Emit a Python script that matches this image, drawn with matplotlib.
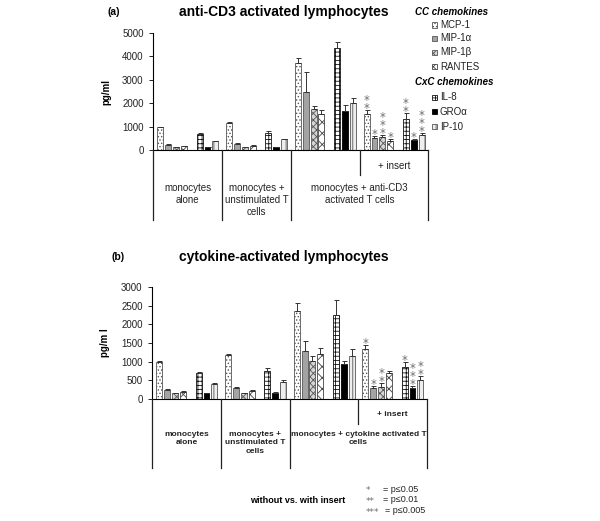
import matplotlib
matplotlib.use('Agg')
import matplotlib.pyplot as plt
from matplotlib.patches import Rectangle
import numpy as np

plt.rcParams['font.family'] = ['Liberation Sans', 'DejaVu Sans']
plt.rcParams['hatch.linewidth'] = 0.6

# ---------------- data ----------------
chemokines = ['MCP-1', 'MIP-1α', 'MIP-1β', 'RANTES', 'IL-8', 'GROα', 'IP-10']
cc_title = 'CC chemokines'
cxc_title = 'CxC chemokines'

a_group_labels = ['monocytes\nalone', 'monocytes +\nunstimulated T\ncells',
                  'monocytes + anti-CD3\nactivated T cells']
b_group_labels = ['monocytes\nalone', 'monocytes +\nunstimulated T\ncells',
                  'monocytes + cytokine activated T\ncells']
insert_label = '+ insert'

# groups: alone, unstimulated T, activated T, activated T + insert
a_mcp1 = [980, 1175, 3730, 1530]
a_mip1a = [240, 283, 2480, 510]
a_mip1b = [130, 130, 1745, 570]
a_rantes = [170, 200, 1530, 400]
a_il8 = [694, 750, 4340, 1330]
a_gro = [150, 150, 1670, 440]
a_ip10 = [383, 468, 2030, 665]
a_mcp1_err = [25, 25, 185, 185]
a_mip1a_err = [15, 15, 840, 90]
a_mip1b_err = [10, 10, 125, 80]
a_rantes_err = [15, 15, 200, 80]
a_il8_err = [30, 70, 260, 245]
a_gro_err = [10, 10, 240, 30]
a_ip10_err = [15, 25, 200, 55]
a_stars = ['**', '*', '***', '*', '**', '*', '***']

b_mcp1 = [1000, 1176, 2360, 1345]
b_mip1a = [240, 294, 1292, 302]
b_mip1b = [152, 160, 1025, 320]
b_rantes = [196, 222, 1211, 706]
b_il8 = [687, 757, 2257, 866]
b_gro = [150, 170, 944, 285]
b_ip10 = [410, 446, 1140, 506]
b_mcp1_err = [15, 30, 200, 107]
b_mip1a_err = [15, 15, 268, 45]
b_mip1b_err = [10, 10, 135, 98]
b_rantes_err = [10, 10, 152, 44]
b_il8_err = [43, 63, 393, 114]
b_gro_err = [10, 10, 62, 62]
b_ip10_err = [25, 54, 197, 106]
b_stars = ['*', '*', '**', '', '*', '***', '**']

sig_labels = ['*', '**', '***']
sig_texts = ['= p≤0.05', '= p≤0.01', '= p≤0.005']

# ---------------- styles ----------------
styles = [
    dict(facecolor='white', edgecolor='#555555', hatch='.....'),
    dict(facecolor='#a3a3a3', edgecolor='#555555', hatch=None),
    dict(facecolor='#d6d6d6', edgecolor='#555555', hatch='xxxxx'),
    dict(facecolor='white', edgecolor='#444444', hatch='xxx'),
    dict(facecolor='white', edgecolor='#111111', hatch='++++'),
    dict(facecolor='black', edgecolor='black', hatch=None),
    dict(facecolor='#eeeeee', edgecolor='#555555', hatch='|||'),
]
W = 8.75
offsets = [0.9, 1.9, 2.9, 3.9, 5.9, 6.9, 7.9]
BW = 0.75
STAR_C = '#6e6e6e'

fig = plt.figure(figsize=(6.0, 5.21), dpi=100)

def px(x):
    return x / 600.0

def py(y):
    return 1 - y / 521.0


def draw_panel(ax, box, means, errs, stars, ymax, step, group_labels, bold, ylabel):
    ngroups = len(means[0])
    for i in range(len(means)):
        xs = np.arange(ngroups) * W + offsets[i]
        st = styles[i]
        ax.bar(xs, means[i], width=BW, facecolor=st['facecolor'], edgecolor=st['edgecolor'],
               hatch=st['hatch'], linewidth=0.6, zorder=2)
        ax.errorbar(xs, means[i], yerr=[np.zeros(ngroups), errs[i]], fmt='none',
                    ecolor='#333333', elinewidth=0.7, capsize=1.8, capthick=0.7, zorder=3)
        s = stars[i]
        if s:
            top = means[i][-1] + errs[i][-1]
            ax.annotate('\n'.join(s), xy=(xs[-1], top), xytext=(0, -3.6),
                        textcoords='offset points', ha='center', va='bottom',
                        fontsize=8.5, color=STAR_C, family='DejaVu Sans',
                        linespacing=0.52)
    ax.set_xlim(0, W * ngroups)
    ax.set_ylim(0, ymax)
    ax.set_yticks(np.arange(0, ymax + 1, step))
    ax.set_xticks([])
    for sp in ['top', 'right']:
        ax.spines[sp].set_visible(False)
    ax.spines['left'].set_linewidth(0.8)
    ax.spines['bottom'].set_linewidth(0.8)
    ax.tick_params(axis='y', length=3, width=0.7, pad=4, labelsize=7, colors='#222222')
    ax.set_ylabel(ylabel, fontsize=7, fontweight='bold', labelpad=8)

    # category box
    box.set_xlim(0, W * ngroups)
    box.set_ylim(0, 1)
    box.axis('off')
    for xv in [0, W, 2 * W, 4 * W]:
        box.plot([xv, xv], [0, 1], color='#222222', lw=0.9, clip_on=False)
    box.plot([3 * W, 3 * W], [0.64, 1], color='#222222', lw=0.9, clip_on=False)
    fw = 'bold' if bold else 'normal'
    fs = 6 if bold else 7
    centers = [0.5 * W, 1.5 * W, 3 * W]
    for c, lab in zip(centers, group_labels):
        box.text(c, 0.535, lab, ha='center', va='top', fontsize=fs, fontweight=fw,
                 color='#222222', linespacing=1.25)
    box.text(3.5 * W, 0.78, insert_label, ha='center', va='center', fontsize=fs,
             fontweight=fw, color='#222222')


# panel a
ax_a = fig.add_axes([px(153.3), py(150.3), px(428.3) - px(153.3), (150.3 - 32.8) / 521])
box_a = fig.add_axes([px(153.3), py(220), px(428.3) - px(153.3), (220 - 150.3) / 521])
means_a = [a_mcp1, a_mip1a, a_mip1b, a_rantes, a_il8, a_gro, a_ip10]
errs_a = [a_mcp1_err, a_mip1a_err, a_mip1b_err, a_rantes_err, a_il8_err, a_gro_err, a_ip10_err]
draw_panel(ax_a, box_a, means_a, errs_a, a_stars, 5000, 1000, a_group_labels, False, 'pg/ml')

# panel b
ax_b = fig.add_axes([px(152.3), py(399), px(427) - px(152.3), (399 - 286.8) / 521])
box_b = fig.add_axes([px(152.3), py(468), px(427) - px(152.3), (468 - 399) / 521])
means_b = [b_mcp1, b_mip1a, b_mip1b, b_rantes, b_il8, b_gro, b_ip10]
errs_b = [b_mcp1_err, b_mip1a_err, b_mip1b_err, b_rantes_err, b_il8_err, b_gro_err, b_ip10_err]
draw_panel(ax_b, box_b, means_b, errs_b, b_stars, 3000, 500, b_group_labels, True, 'pg/m l')

# titles
fig.text(px(108), py(12), '(a)', fontsize=7.5, fontweight='bold', va='center', ha='left')
fig.text(px(284), py(12), 'anti-CD3 activated lymphocytes', fontsize=10, fontweight='bold',
         va='center', ha='center')
fig.text(px(112), py(257), '(b)', fontsize=7.5, fontweight='bold', va='center', ha='left')
fig.text(px(284), py(257), 'cytokine-activated lymphocytes', fontsize=10, fontweight='bold',
         va='center', ha='center')

# legend (panel a)
fig.text(px(415), py(11.7), cc_title, fontsize=7, fontweight='bold', style='italic',
         va='center', ha='left')
fig.text(px(415), py(82), cxc_title, fontsize=7, fontweight='bold', style='italic',
         va='center', ha='left')
leg_y = [25, 38.3, 52.3, 66.7, 97.3, 111.7, 126.7]
for i, (name, yy) in enumerate(zip(chemokines, leg_y)):
    st = styles[i]
    r = Rectangle((px(431.5), py(yy + 2.7)), 5.5 / 600, 5.5 / 521, transform=fig.transFigure,
                  facecolor=st['facecolor'], edgecolor=st['edgecolor'], hatch=st['hatch'],
                  linewidth=0.6)
    fig.patches.append(r)
    fig.text(px(440), py(yy), name, fontsize=7, va='center', ha='left', color='#222222')

# significance legend
fig.text(px(298), py(500.5), 'without vs. with insert', fontsize=6.5, fontweight='bold',
         ha='center', va='center')
for k, (s, t) in enumerate(zip(sig_labels, sig_texts)):
    yy = 489 + k * 10.8
    fig.text(px(366), py(yy + 2), s, fontsize=6.5, color=STAR_C, ha='left', va='center',
             family='DejaVu Sans')
    fig.text(px(383 + (2 if k == 2 else 0)), py(yy), t, fontsize=6.5, ha='left', va='center',
             color='#222222')

fig.savefig('out.png', dpi=100)
